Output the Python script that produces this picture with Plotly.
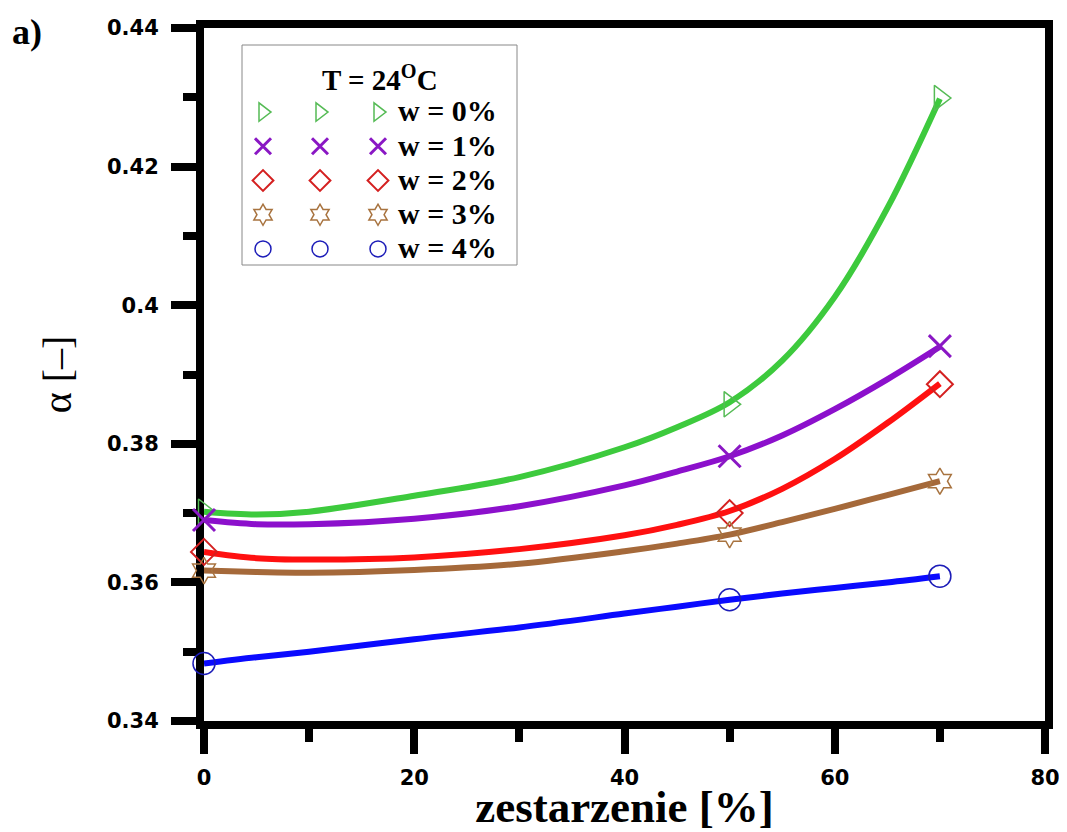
import plotly.graph_objects as go

# ---------------- data ----------------
aging_pts = [0, 50, 70]                       # zestarzenie [%]
w_labels = ["w = 0%", "w = 1%", "w = 2%", "w = 3%", "w = 4%"]

alpha_w0 = [0.3702, 0.3857, 0.4299]
alpha_w1 = [0.3690, 0.3782, 0.3941]
alpha_w2 = [0.3644, 0.3700, 0.3886]
alpha_w3 = [0.3617, 0.3669, 0.3746]
alpha_w4 = [0.3483, 0.3575, 0.3609]

# fitted curves as drawn in the picture
fit_x = [0, 5, 10, 20, 30, 40, 45, 50, 55, 60, 65, 70]
fit_w0 = [0.3702, 0.3698, 0.3702, 0.3725, 0.3752, 0.3795, 0.3824, 0.3860, 0.3920, 0.4012, 0.4140, 0.4298]
fit_w1 = [0.3690, 0.3684, 0.3684, 0.3692, 0.3710, 0.3740, 0.3760, 0.3782, 0.3812, 0.3850, 0.3893, 0.3940]
fit_w2 = [0.3644, 0.3635, 0.3633, 0.3636, 0.3648, 0.3668, 0.3683, 0.3703, 0.3735, 0.3778, 0.3830, 0.3887]
fit_w3 = [0.3617, 0.3615, 0.3614, 0.3618, 0.3627, 0.3645, 0.3656, 0.3669, 0.3687, 0.3706, 0.3726, 0.3746]
fit_w4 = [0.3483, 0.3492, 0.3500, 0.3518, 0.3535, 0.3555, 0.3565, 0.3575, 0.3584, 0.3592, 0.3600, 0.3609]

x_tickvals = [0, 20, 40, 60, 80]
x_ticktext = ["0", "20", "40", "60", "80"]
y_tickvals = [0.34, 0.36, 0.38, 0.40, 0.42, 0.44]
y_ticktext = ["0.34", "0.36", "0.38", "0.4", "0.42", "0.44"]

legend_title = "T = 24<sup>O</sup>C"
panel_label = "a)"

# ---------------- styles ----------------
series_pts = [alpha_w0, alpha_w1, alpha_w2, alpha_w3, alpha_w4]
series_fit = [fit_w0, fit_w1, fit_w2, fit_w3, fit_w4]
line_colors = ["#3dca3d", "#8c10cc", "#ff1010", "#a5693a", "#0a0aff"]
marker_colors = ["#55bb55", "#8a17c4", "#d42020", "#a8733f", "#1c1cb8"]
marker_symbols = ["triangle-right-open", "x-thin-open", "diamond-open", "hexagram-open", "circle-open"]
marker_sizes = [22, 22, 20, 20, 22]
marker_lw = [1.5, 3, 2, 1.5, 1.5]

fig = go.Figure()

for i in range(5):
    fig.add_trace(go.Scatter(
        x=fit_x, y=series_fit[i], mode="lines",
        line=dict(color=line_colors[i], width=6, shape="spline", smoothing=1.0),
        showlegend=False, hoverinfo="skip", cliponaxis=False))

for i in range(5):
    mk = dict(symbol=marker_symbols[i], size=marker_sizes[i], color=marker_colors[i],
              line=dict(color=marker_colors[i], width=marker_lw[i]))
    fig.add_trace(go.Scatter(
        x=aging_pts, y=series_pts[i], mode="markers", marker=mk,
        name="<span style='font-size:30px'>" + w_labels[i] + "</span>",
        legend="legend3", cliponaxis=False))
    # extra legend samples (Origin-style: three symbols per entry)
    fig.add_trace(go.Scatter(x=[None], y=[None], mode="markers", marker=mk,
                             name=" ", legend="legend"))
    fig.add_trace(go.Scatter(x=[None], y=[None], mode="markers", marker=mk,
                             name=" ", legend="legend2"))

# the page body adds an 8px margin; the figure starts at (8, 8) in the window
OFF = 8
W, H = 1067 - OFF, 832 - OFF
# plot area in window pixels: x 204..1045, y 28..721
L, R, T, B = 204 - OFF, 1067 - 1045, 28 - OFF, 832 - 721
pw = W - L - R
ph = H - T - B


def px2x(p):
    return (p - OFF - L) / pw


def py2y(p):
    return (T + ph - (p - OFF)) / ph


tick_font = dict(family="DejaVu Sans", size=21, color="black", weight="bold")
leg_font = dict(family="Liberation Serif", size=24, color="black", weight="bold")
leg_common = dict(bgcolor="rgba(0,0,0,0)", borderwidth=0, font=leg_font,
                  xanchor="left", yanchor="top", tracegroupgap=0, itemsizing="trace")

fig.update_layout(
    width=W, height=H,
    margin=dict(l=L, r=R, t=T, b=B, autoexpand=False),
    paper_bgcolor="white", plot_bgcolor="white",
    legend=dict(x=px2x(243), y=py2y(90), **leg_common),
    legend2=dict(x=px2x(300), y=py2y(90), **leg_common),
    legend3=dict(x=px2x(358), y=py2y(90), **leg_common),
    shapes=[dict(type="rect", xref="paper", yref="paper",
                 x0=px2x(242), x1=px2x(517), y0=py2y(265), y1=py2y(45),
                 line=dict(color="#888888", width=1), fillcolor="white", layer="below")],
    annotations=[
        dict(text=legend_title, xref="paper", yref="paper", x=px2x(380), y=py2y(78),
             showarrow=False, xanchor="center", yanchor="middle",
             font=dict(family="Liberation Serif", size=29, color="black", weight="bold")),
        dict(text=panel_label, xref="paper", yref="paper", x=px2x(10), y=py2y(32),
             showarrow=False, xanchor="left", yanchor="middle",
             font=dict(family="Liberation Serif", size=36, color="black", weight="bold")),
    ],
)

fig.update_xaxes(
    range=[0, 80], tickvals=x_tickvals, ticktext=x_ticktext, automargin=False,
    showgrid=False, zeroline=False,
    showline=True, linewidth=8, linecolor="black", mirror=True,
    ticks="outside", ticklen=25, tickwidth=8, tickcolor="black",
    minor=dict(dtick=10, ticks="outside", ticklen=13, tickwidth=8, tickcolor="black", showgrid=False),
    tickfont=tick_font, ticklabelstandoff=6,
    title=dict(text="zestarzenie [%]", standoff=10,
               font=dict(family="Liberation Serif", size=45, color="black", weight="bold")),
    layer="below traces",
)
fig.update_yaxes(
    range=[0.34, 0.44], tickvals=y_tickvals, ticktext=y_ticktext, automargin=False,
    showgrid=False, zeroline=False,
    showline=True, linewidth=8, linecolor="black", mirror=True,
    ticks="outside", ticklen=25, tickwidth=8, tickcolor="black",
    minor=dict(dtick=0.01, ticks="outside", ticklen=13, tickwidth=8, tickcolor="black", showgrid=False),
    tickfont=tick_font, ticklabelstandoff=8,
    title=dict(text="α [–]", standoff=26,
               font=dict(family="Liberation Serif", size=40, color="black")),
    layer="below traces",
)

fig.write_html("out.html")
